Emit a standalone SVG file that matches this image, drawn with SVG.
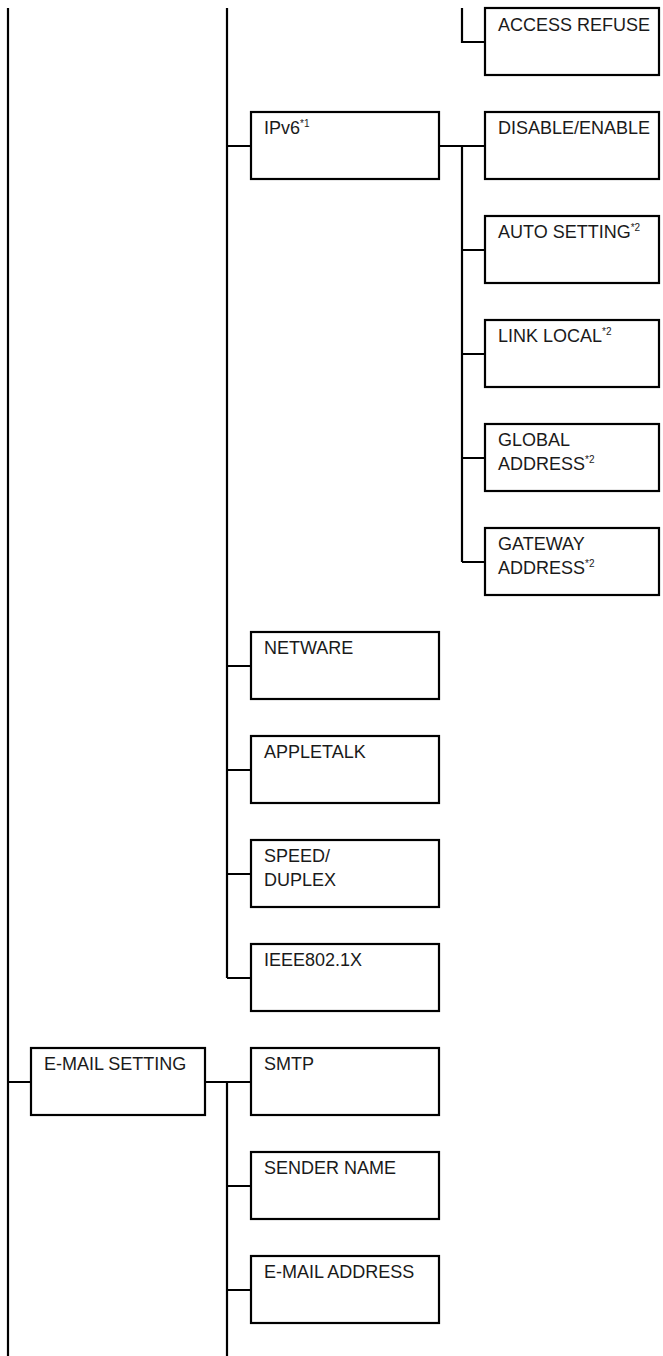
<svg xmlns="http://www.w3.org/2000/svg" width="663" height="1356" viewBox="0 0 663 1356">
<style>
.box{fill:#fff;stroke:#000;stroke-width:2.2}
.ln{fill:none;stroke:#000;stroke-width:2.2}
.t{font-family:"Liberation Sans",Arial,sans-serif;font-size:18px;fill:#1a1a1a}
.sup{font-size:10px}
</style>
<rect width="663" height="1356" fill="#fff"/>
<g id="connectors">
<path class="ln" d="M8 8V1356M8 1082H31"/>
<path class="ln" d="M227 8V978M227 146H251M227 666H251M227 770H251M227 874H251M227 978H251"/>
<path class="ln" d="M205 1082H251M227 1082V1356M227 1186H251M227 1290H251"/>
<path class="ln" d="M462 8V42H485"/>
<path class="ln" d="M439 146H485M462 146V562M462 250H485M462 354H485M462 458H485M462 562H485"/>
</g>
<g id="access-refuse"><rect class="box" x="485" y="8" width="174" height="67"/><text class="t" x="498" y="31">ACCESS REFUSE</text></g>
<g id="ipv6"><rect class="box" x="251" y="112" width="188" height="67"/><text class="t" x="264" y="134">IPv6<tspan class="sup" dy="-7">*1</tspan></text></g>
<g id="disable-enable"><rect class="box" x="485" y="112" width="174" height="67"/><text class="t" x="498" y="134">DISABLE/ENABLE</text></g>
<g id="auto-setting"><rect class="box" x="485" y="216" width="174" height="67"/><text class="t" x="498" y="238">AUTO SETTING<tspan class="sup" dy="-7">*2</tspan></text></g>
<g id="link-local"><rect class="box" x="485" y="320" width="174" height="67"/><text class="t" x="498" y="342">LINK LOCAL<tspan class="sup" dy="-7">*2</tspan></text></g>
<g id="global-address"><rect class="box" x="485" y="424" width="174" height="67"/><text class="t" x="498" y="446">GLOBAL</text><text class="t" x="498" y="470">ADDRESS<tspan class="sup" dy="-7">*2</tspan></text></g>
<g id="gateway-address"><rect class="box" x="485" y="528" width="174" height="67"/><text class="t" x="498" y="550">GATEWAY</text><text class="t" x="498" y="574">ADDRESS<tspan class="sup" dy="-7">*2</tspan></text></g>
<g id="netware"><rect class="box" x="251" y="632" width="188" height="67"/><text class="t" x="264" y="654">NETWARE</text></g>
<g id="appletalk"><rect class="box" x="251" y="736" width="188" height="67"/><text class="t" x="264" y="758">APPLETALK</text></g>
<g id="speed-duplex"><rect class="box" x="251" y="840" width="188" height="67"/><text class="t" x="264" y="862">SPEED/</text><text class="t" x="264" y="886">DUPLEX</text></g>
<g id="ieee8021x"><rect class="box" x="251" y="944" width="188" height="67"/><text class="t" x="264" y="966">IEEE802.1X</text></g>
<g id="email-setting"><rect class="box" x="31" y="1048" width="174" height="67"/><text class="t" x="44" y="1070">E-MAIL SETTING</text></g>
<g id="smtp"><rect class="box" x="251" y="1048" width="188" height="67"/><text class="t" x="264" y="1070">SMTP</text></g>
<g id="sender-name"><rect class="box" x="251" y="1152" width="188" height="67"/><text class="t" x="264" y="1174">SENDER NAME</text></g>
<g id="email-address"><rect class="box" x="251" y="1256" width="188" height="67"/><text class="t" x="264" y="1278">E-MAIL ADDRESS</text></g>
</svg>
